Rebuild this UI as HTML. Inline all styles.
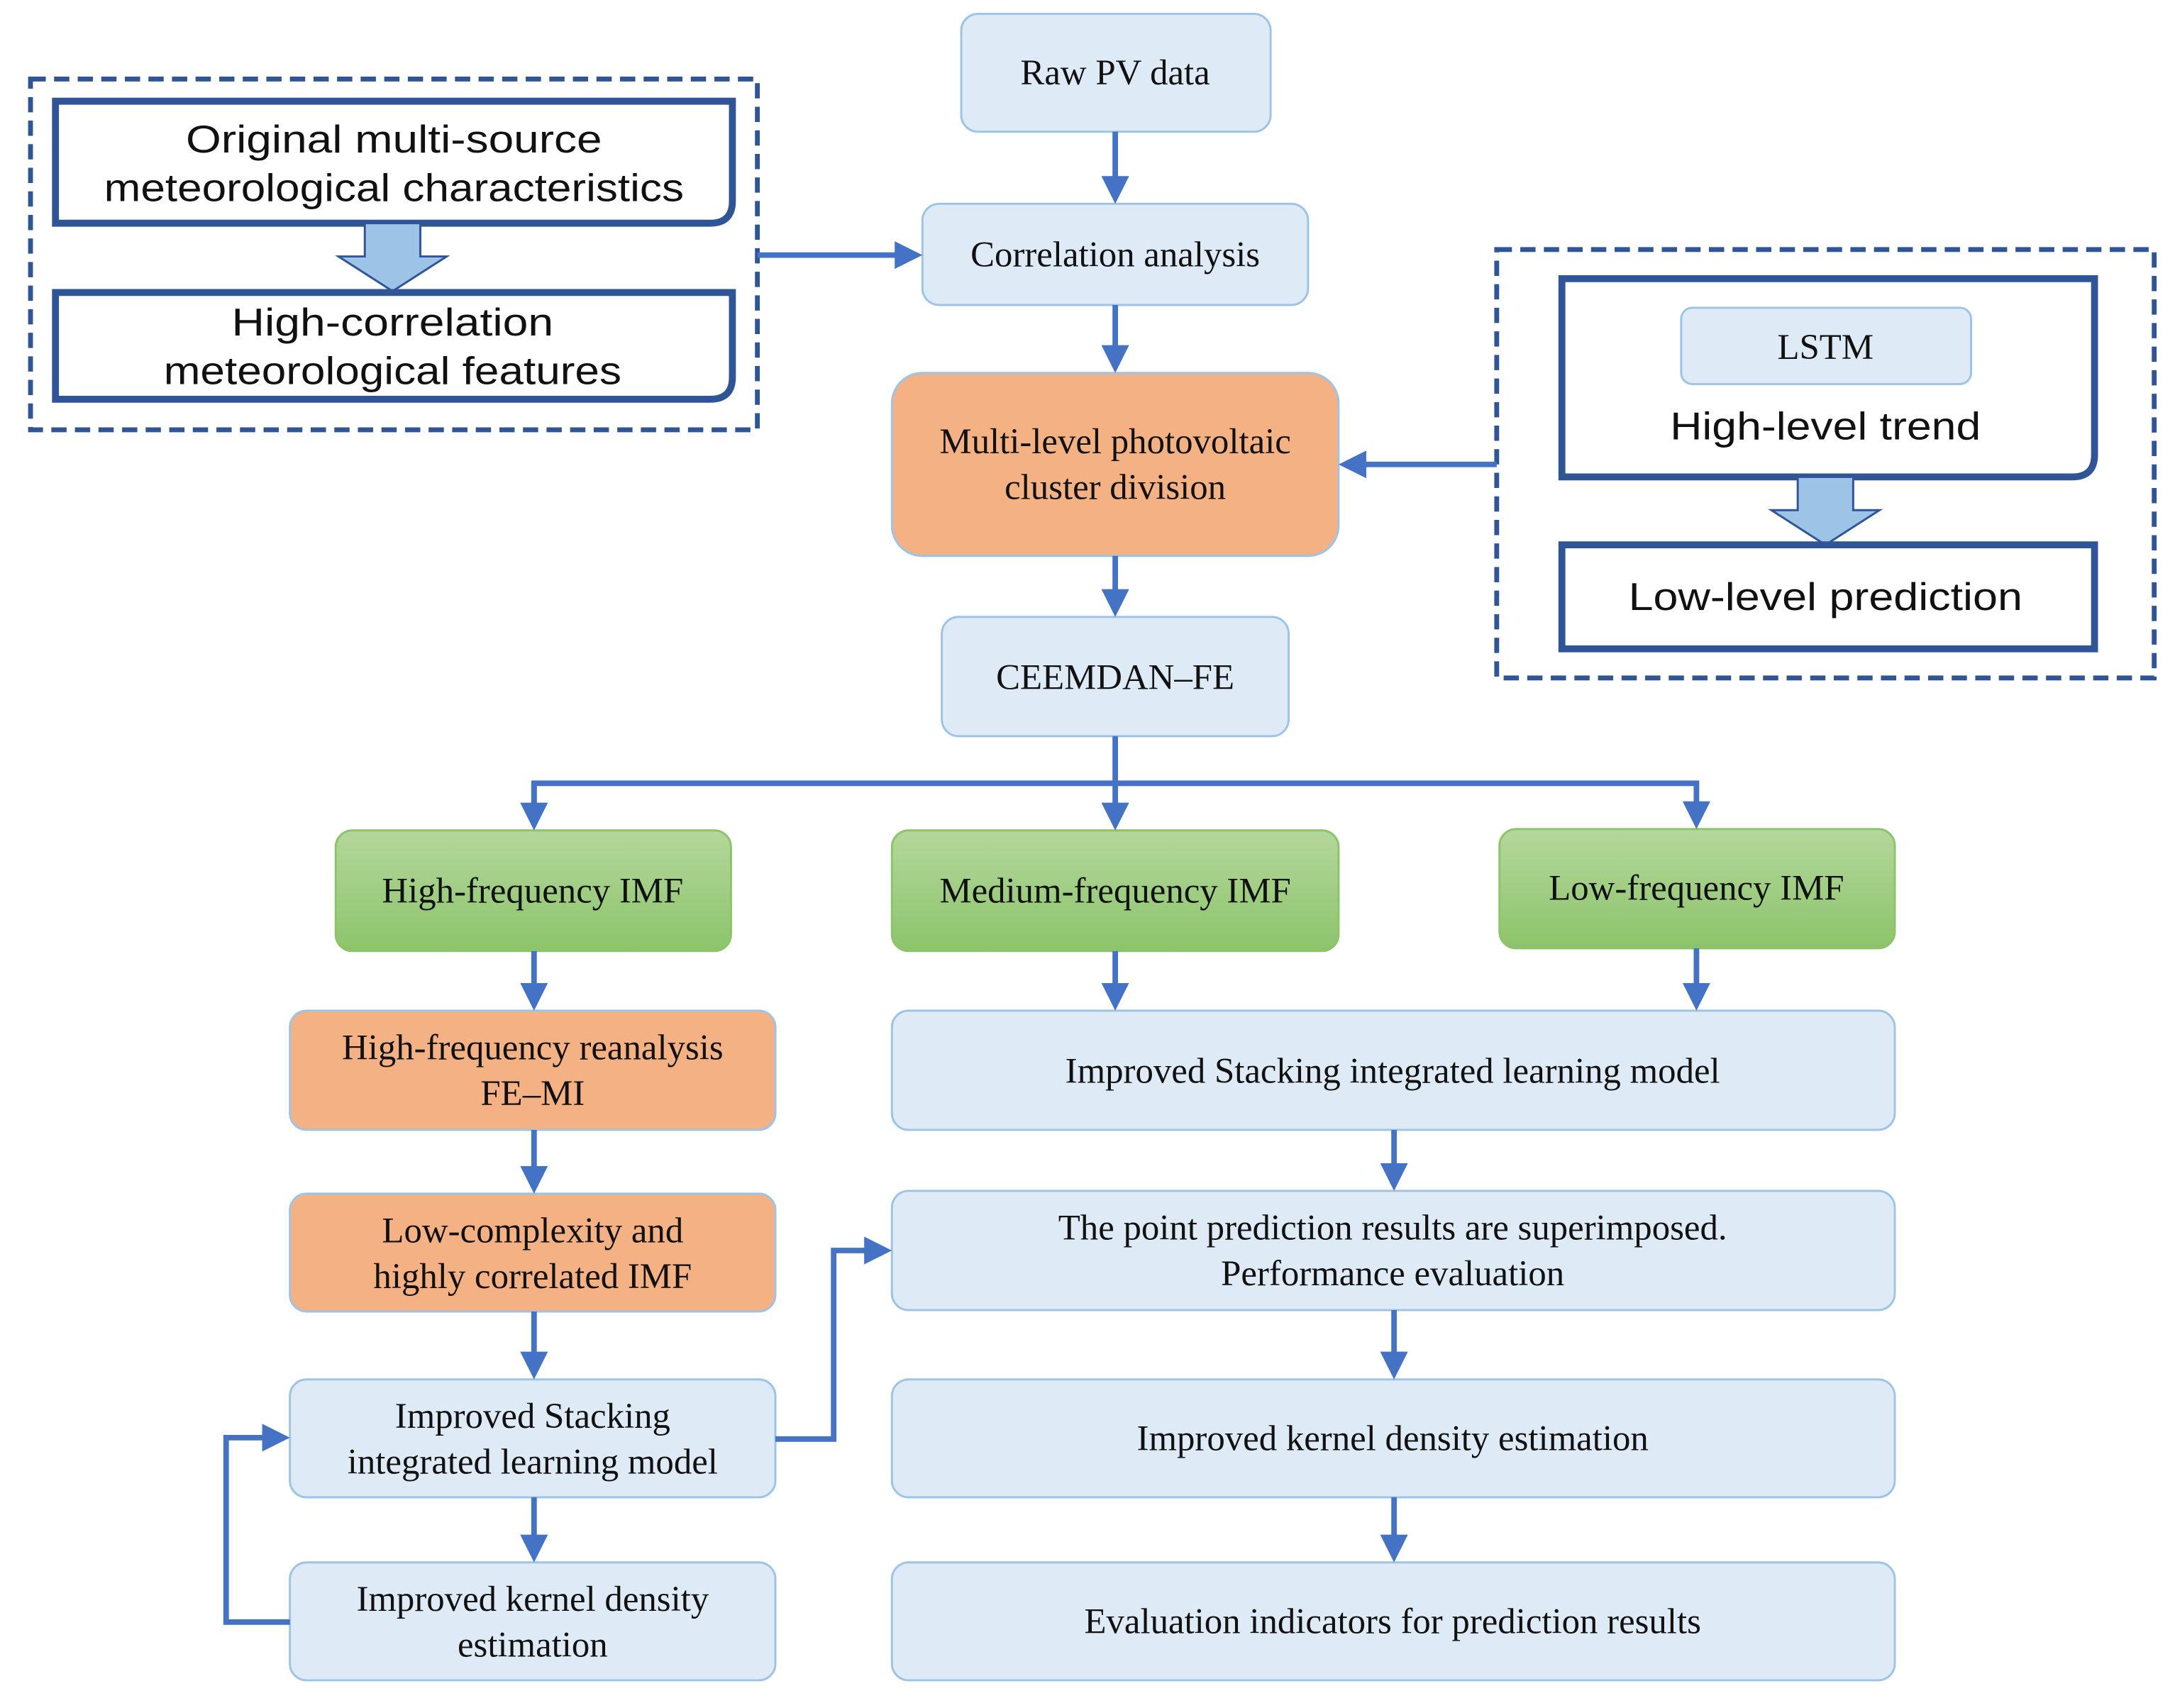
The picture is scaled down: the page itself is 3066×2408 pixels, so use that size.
<!DOCTYPE html>
<html><head><meta charset="utf-8"><style>html,body{margin:0;padding:0;background:#fff}svg{display:block}</style></head>
<body>
<svg width="3066" height="2408" viewBox="0 0 1568 1232" preserveAspectRatio="none" xmlns="http://www.w3.org/2000/svg">
<defs>
<linearGradient id="g" x1="0" y1="0" x2="0" y2="1"><stop offset="0" stop-color="#b4d79c"/><stop offset="1" stop-color="#8cc46a"/></linearGradient>
<marker id="a" markerWidth="5" markerHeight="5" refX="4" refY="2.5" orient="auto" markerUnits="strokeWidth"><path d="M0,0 L5,2.5 L0,5 z" fill="#4472c4"/></marker>
</defs>
<style>
.b{fill:#deebf7;stroke:#9dc3e6;stroke-width:1.5}
.o{fill:#f4b183;stroke:#9dc3e6;stroke-width:1.5}
.gr{fill:url(#g);stroke:#8cc46a;stroke-width:1.5}
.t{font-family:"Liberation Serif",serif;font-size:26px;fill:#111;text-anchor:middle}
.s{font-family:"Liberation Sans",sans-serif;font-size:28px;fill:#111;text-anchor:middle}
.l{stroke:#4472c4;stroke-width:4;fill:none}
.d{fill:none;stroke:#2f5597;stroke-width:3.5;stroke-dasharray:11 6}
.k{fill:#fff;stroke:#2f5597;stroke-width:5}
</style>
<!-- left dashed group -->
<rect class="d" x="22" y="57" width="524" height="253"/>
<path class="k" d="M40,73 H528 V145 Q528,161 512,161 H40 Z"/>
<text class="s" x="284" y="110" textLength="300" lengthAdjust="spacingAndGlyphs">Original multi-source</text>
<text class="s" x="284" y="145" textLength="418" lengthAdjust="spacingAndGlyphs">meteorological characteristics</text>
<path d="M263,161 H303 V185 H322 L283,210 L244,185 H263 Z" fill="#9dc3e6" stroke="#2f5597" stroke-width="1.5"/>
<path class="k" d="M40,211 H528 V272 Q528,288 512,288 H40 Z"/>
<text class="s" x="283" y="242" textLength="232" lengthAdjust="spacingAndGlyphs">High-correlation</text>
<text class="s" x="283" y="277" textLength="330" lengthAdjust="spacingAndGlyphs">meteorological features</text>
<!-- right dashed group -->
<rect class="d" x="1079" y="180" width="474" height="309"/>
<path class="k" d="M1126,201 H1510 V328 Q1510,344 1494,344 H1126 Z"/>
<rect class="b" x="1212" y="222" width="209" height="55" rx="8"/>
<text class="t" x="1316" y="259">LSTM</text>
<text class="s" x="1316" y="317" textLength="224" lengthAdjust="spacingAndGlyphs">High-level trend</text>
<path d="M1296,344 H1336 V368 H1355 L1316,393 L1277,368 H1296 Z" fill="#9dc3e6" stroke="#2f5597" stroke-width="1.5"/>
<path class="k" d="M1126,393 H1510 V468 H1126 Z"/>
<text class="s" x="1316" y="440" textLength="284" lengthAdjust="spacingAndGlyphs">Low-level prediction</text>
<!-- boxes -->
<rect class="b" x="693" y="10" width="223" height="85" rx="12"/><text class="t" x="804" y="61">Raw PV data</text>
<rect class="b" x="665" y="147" width="278" height="73" rx="12"/><text class="t" x="804" y="192">Correlation analysis</text>
<rect class="o" x="643" y="269" width="322" height="132" rx="22"/><text class="t" x="804" y="327">Multi-level photovoltaic</text><text class="t" x="804" y="360">cluster division</text>
<rect class="b" x="679" y="445" width="250" height="86" rx="12"/><text class="t" x="804" y="497">CEEMDAN–FE</text>
<rect class="gr" x="242" y="599" width="285" height="87" rx="12"/><text class="t" x="384" y="651">High-frequency IMF</text>
<rect class="gr" x="643" y="599" width="322" height="87" rx="12"/><text class="t" x="804" y="651">Medium-frequency IMF</text>
<rect class="gr" x="1081" y="598" width="285" height="86" rx="12"/><text class="t" x="1223" y="649">Low-frequency IMF</text>
<rect class="o" x="209" y="729" width="350" height="86" rx="12"/><text class="t" x="384" y="764">High-frequency  reanalysis</text><text class="t" x="384" y="797">FE–MI</text>
<rect class="b" x="643" y="729" width="723" height="86" rx="12"/><text class="t" x="1004" y="781">Improved Stacking integrated learning model</text>
<rect class="o" x="209" y="861" width="350" height="85" rx="12"/><text class="t" x="384" y="896">Low-complexity  and</text><text class="t" x="384" y="929">highly correlated IMF</text>
<rect class="b" x="643" y="859" width="723" height="86" rx="12"/><text class="t" x="1004" y="894">The point prediction results are superimposed.</text><text class="t" x="1004" y="927">Performance evaluation</text>
<rect class="b" x="209" y="995" width="350" height="85" rx="12"/><text class="t" x="384" y="1030">Improved Stacking</text><text class="t" x="384" y="1063">integrated learning model</text>
<rect class="b" x="643" y="995" width="723" height="85" rx="12"/><text class="t" x="1004" y="1046">Improved kernel density estimation</text>
<rect class="b" x="209" y="1127" width="350" height="85" rx="12"/><text class="t" x="384" y="1162">Improved kernel density</text><text class="t" x="384" y="1195">estimation</text>
<rect class="b" x="643" y="1127" width="723" height="85" rx="12"/><text class="t" x="1004" y="1178">Evaluation indicators for prediction results</text>
<!-- connectors -->
<g class="l">
<path d="M804,95 V143" marker-end="url(#a)"/>
<path d="M804,220 V265" marker-end="url(#a)"/>
<path d="M804,401 V441" marker-end="url(#a)"/>
<path d="M546,184 H661" marker-end="url(#a)"/>
<path d="M1079,335 H969" marker-end="url(#a)"/>
<path d="M804,531 V595" marker-end="url(#a)"/>
<path d="M385,595 V565 H1223 V594" marker-end="url(#a)"/>
<path d="M385,565 V595" marker-end="url(#a)"/>
<path d="M385,686 V725" marker-end="url(#a)"/>
<path d="M804,686 V725" marker-end="url(#a)"/>
<path d="M1223,684 V725" marker-end="url(#a)"/>
<path d="M385,815 V857" marker-end="url(#a)"/>
<path d="M385,946 V991" marker-end="url(#a)"/>
<path d="M385,1080 V1123" marker-end="url(#a)"/>
<path d="M1005,815 V855" marker-end="url(#a)"/>
<path d="M1005,945 V991" marker-end="url(#a)"/>
<path d="M1005,1080 V1123" marker-end="url(#a)"/>
<path d="M209,1170 H163 V1037 H205" marker-end="url(#a)"/>
<path d="M559,1038 H601 V902 H639" marker-end="url(#a)"/>
</g>
</svg>
</body></html>
